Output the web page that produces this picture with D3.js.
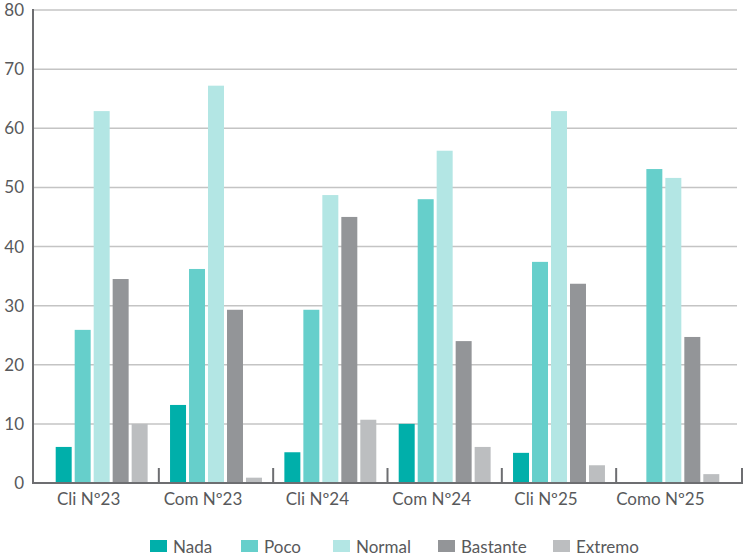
<!DOCTYPE html>
<html>
<head>
<meta charset="utf-8">
<script src="https://cdn.jsdelivr.net/npm/d3@7"></script>
<style>
  html, body { margin: 0; padding: 0; background: #fff; }
  svg { display: block; }
  text { font-family: Lato, Roboto, sans-serif; fill: #58595b; }
</style>
</head>
<body>
<svg id="chart" width="743" height="557"></svg>
<script>
// Survey groups along the x axis
const categories = ["Cli Nº23", "Com Nº23", "Cli Nº24", "Com Nº24", "Cli Nº25", "Como Nº25"];
// Answer levels (one bar each per group)
const seriesNames = ["Nada", "Poco", "Normal", "Bastante", "Extremo"];
const seriesColors = ["#00afaa", "#66cfcb", "#b3e6e4", "#939598", "#bcbec0"];
// Percentages per level, in category order
const nada     = [6.1, 13.2, 5.2, 10.0, 5.1, 0];
const poco     = [25.9, 36.2, 29.3, 48.0, 37.4, 53.1];
const normal   = [62.9, 67.2, 48.7, 56.2, 62.9, 51.6];
const bastante = [34.5, 29.3, 45.0, 24.0, 33.7, 24.7];
const extremo  = [10.0, 0.9, 10.7, 6.1, 3.0, 1.5];
const yTicks = [0, 10, 20, 30, 40, 50, 60, 70, 80];

const series = [nada, poco, normal, bastante, extremo];

const svg = d3.select("#chart");
const plotLeft = 33, plotRight = 742, plotTop = 10, plotBottom = 483;

const x = d3.scaleBand().domain(categories).range([44.5, 730.5]).paddingInner(0).paddingOuter(0);
const inner = d3.scaleBand().domain(seriesNames).range([0, x.bandwidth()])
  .paddingInner(3 / 19).paddingOuter(0.59);
const y = d3.scaleLinear().domain([0, 80]).range([plotBottom, plotTop]);

// horizontal gridlines
svg.append("g").selectAll("line")
  .data(yTicks.filter(d => d > 0))
  .join("line")
  .attr("x1", plotLeft).attr("x2", 737)
  .attr("y1", d => y(d)).attr("y2", d => y(d))
  .attr("stroke", "#c4c4c4").attr("stroke-width", 1.5);

// y tick labels
svg.append("g").selectAll("text")
  .data(yTicks)
  .join("text")
  .attr("x", 24).attr("y", d => y(d))
  .attr("dy", "0.36em")
  .attr("text-anchor", "end")
  .attr("font-size", 17)
  .text(d => d);

// bars
const groups = svg.append("g").selectAll("g")
  .data(categories)
  .join("g")
  .attr("transform", d => `translate(${x(d)},0)`);

groups.selectAll("rect")
  .data((c, ci) => seriesNames.map((s, si) => ({ s, si, v: series[si][ci] })))
  .join("rect")
  .attr("x", d => inner(d.s))
  .attr("width", inner.bandwidth())
  .attr("y", d => y(d.v))
  .attr("height", d => y(0) - y(d.v))
  .attr("fill", d => seriesColors[d.si]);

// axes
svg.append("line")
  .attr("x1", plotLeft).attr("x2", plotLeft).attr("y1", plotTop - 1).attr("y2", plotBottom + 1)
  .attr("stroke", "#6d6e71").attr("stroke-width", 2);
svg.append("line")
  .attr("x1", plotLeft).attr("x2", plotRight + 1).attr("y1", plotBottom).attr("y2", plotBottom)
  .attr("stroke", "#6d6e71").attr("stroke-width", 2);

// category separator ticks
const tickXs = categories.slice(1).map(c => x(c)).concat([plotRight]);
svg.append("g").selectAll("line")
  .data(tickXs)
  .join("line")
  .attr("x1", d => d).attr("x2", d => d)
  .attr("y1", plotBottom).attr("y2", plotBottom - 15)
  .attr("stroke", "#6d6e71").attr("stroke-width", 2);

// category labels, set slightly left of each group's centre
svg.append("g").selectAll("text")
  .data(categories)
  .join("text")
  .attr("x", d => x(d) + x.bandwidth() / 2 - 13)
  .attr("y", 505)
  .attr("text-anchor", "middle")
  .attr("font-size", 17)
  .text(d => d);

// legend
const legendX = [150, 241, 333, 438, 553];
const legend = svg.append("g").selectAll("g")
  .data(seriesNames)
  .join("g")
  .attr("transform", (d, i) => `translate(${legendX[i]},540)`);
legend.append("rect")
  .attr("width", 17).attr("height", 12)
  .attr("fill", (d, i) => seriesColors[i]);
legend.append("text")
  .attr("x", 23).attr("y", 12.5)
  .attr("font-size", 17)
  .text(d => d);
</script>
</body>
</html>
